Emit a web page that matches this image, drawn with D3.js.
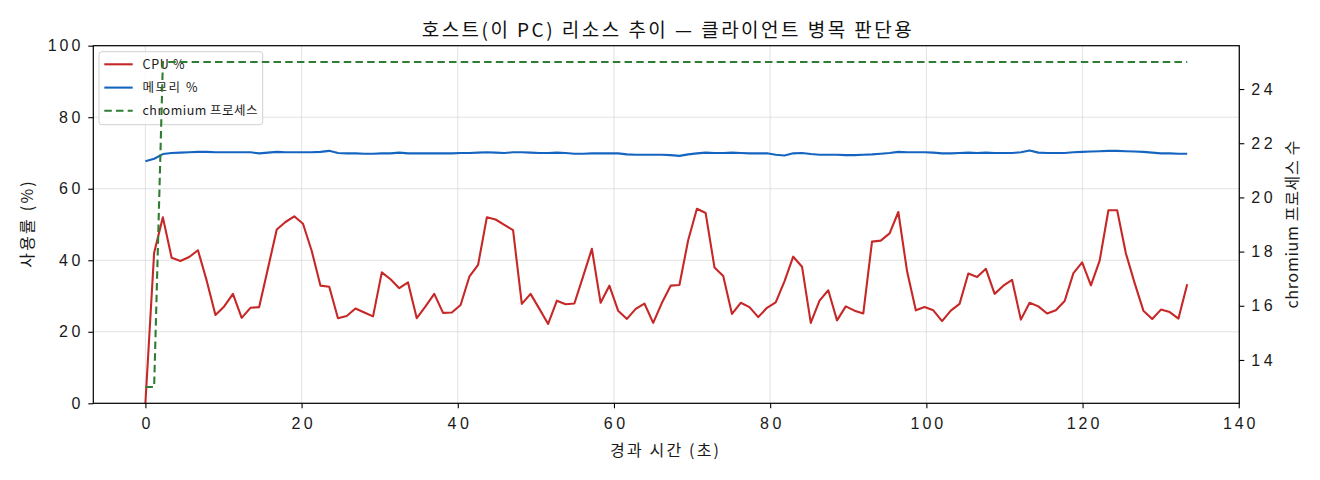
<!DOCTYPE html>
<html>
<head>
<meta charset="utf-8">
<script src="https://cdn.jsdelivr.net/npm/d3@7/dist/d3.min.js"></script>
<style>
  html, body { margin: 0; padding: 0; background: #fff; }
  svg { display: block; font-family: "Noto Sans CJK KR", "Noto Sans", sans-serif; }
</style>
</head>
<body>
<svg id="chart" width="1320" height="480"></svg>
<script>
// ---- data ----
const times = [0,1.12,2.24,3.36,4.48,5.61,6.73,7.85,8.97,10.09,11.21,12.33,13.45,14.57,15.69,16.82,17.94,19.06,20.18,21.30,
22.42,23.54,24.66,25.78,26.90,28.03,29.15,30.27,31.39,32.51,33.63,34.75,35.87,36.99,38.11,39.24,40.36,41.48,42.60,43.72,
44.84,45.96,47.08,48.20,49.32,50.45,51.57,52.69,53.81,54.93,56.05,57.17,58.29,59.41,60.53,61.66,62.78,63.90,65.02,66.14,
67.26,68.38,69.50,70.62,71.74,72.87,73.99,75.11,76.23,77.35,78.47,79.59,80.71,81.83,82.95,84.08,85.20,86.32,87.44,88.56,
89.68,90.80,91.92,93.04,94.16,95.29,96.41,97.53,98.65,99.77,100.89,102.01,103.13,104.25,105.37,106.50,107.62,108.74,109.86,110.98,
112.10,113.22,114.34,115.46,116.58,117.71,118.83,119.95,121.07,122.19,123.31,124.43,125.55,126.67,127.79,128.92,130.04,131.16,132.28,133.40];

const cpuPct = [0,42.1,52.0,40.7,39.8,40.9,42.8,34.3,24.7,27.1,30.6,23.9,26.7,26.9,37.7,48.6,50.7,52.3,50.2,42.6,
32.9,32.6,23.8,24.4,26.5,25.4,24.3,36.6,34.7,32.2,33.8,23.8,27.1,30.6,25.3,25.4,27.5,35.4,38.7,52.0,
51.4,49.9,48.4,27.8,30.6,26.4,22.2,28.7,27.7,27.9,35.5,43.2,28.1,32.9,25.9,23.6,26.4,27.9,22.5,28.1,
32.9,33.1,45.6,54.4,53.2,38.0,35.6,25.0,28.1,26.9,24.1,26.7,28.2,34.1,41.0,38.2,22.5,28.7,31.6,23.2,
27.1,25.9,25.1,45.2,45.5,47.5,53.5,36.9,26.0,26.9,26.0,23.0,25.9,27.8,36.3,35.3,37.6,30.6,32.9,34.5,
23.4,28.1,27.1,25.1,26.0,28.6,36.4,39.4,33.0,39.9,54.0,54.0,41.9,33.6,25.9,23.6,26.2,25.5,23.7,33.3];

const memPct = [67.7,68.4,69.7,70.0,70.1,70.2,70.3,70.3,70.2,70.2,70.2,70.2,70.2,69.9,70.1,70.3,70.2,70.2,70.2,70.2,
70.3,70.6,70.0,69.9,69.9,69.8,69.8,69.9,69.9,70.1,69.9,69.9,69.9,69.9,69.9,69.9,70.0,70.0,70.1,70.2,
70.1,70.0,70.2,70.2,70.1,70.0,70.0,70.1,70.0,69.8,69.8,69.9,69.9,69.9,69.9,69.6,69.5,69.5,69.5,69.5,
69.4,69.2,69.6,69.9,70.1,70.0,70.0,70.1,70.0,69.9,69.9,69.9,69.5,69.3,69.9,70.0,69.7,69.5,69.5,69.5,
69.4,69.4,69.5,69.6,69.8,70.0,70.3,70.2,70.2,70.2,70.1,69.9,69.9,70.0,70.1,70.0,70.1,70.0,70.0,70.0,
70.2,70.7,70.1,70.0,70.0,70.0,70.2,70.3,70.4,70.5,70.6,70.6,70.5,70.4,70.3,70.1,69.9,69.9,69.8,69.8];

const chromiumProcs = [13,13,25,25,25,25,25,25,25,25,25,25,25,25,25,25,25,25,25,25,
25,25,25,25,25,25,25,25,25,25,25,25,25,25,25,25,25,25,25,25,
25,25,25,25,25,25,25,25,25,25,25,25,25,25,25,25,25,25,25,25,
25,25,25,25,25,25,25,25,25,25,25,25,25,25,25,25,25,25,25,25,
25,25,25,25,25,25,25,25,25,25,25,25,25,25,25,25,25,25,25,25,
25,25,25,25,25,25,25,25,25,25,25,25,25,25,25,25,25,25,25,25];

const xTicks = [0, 20, 40, 60, 80, 100, 120, 140];
const yLeftTicks = [0, 20, 40, 60, 80, 100];
const yRightTicks = [14, 16, 18, 20, 22, 24];

const titleText = "호스트(이 PC) 리소스 추이 — 클라이언트 병목 판단용";
const xLabel = "경과 시간 (초)";
const yLeftLabel = "사용률 (%)";
const yRightLabel = "chromium 프로세스 수";
const seriesNames = ["CPU %", "메모리 %", "chromium 프로세스"];

// ---- layout ----
const W = 1320, H = 480;
const L = 93.3, R = 1239.3, T = 45.7, B = 403.3;
const colors = { cpu: "#c62828", mem: "#1565c0", chr: "#2e7d32" };
const ink = "#1a1a1a";

const svg = d3.select("#chart");

const xMin = d3.min(times), xMax = d3.max(times), xPad = (xMax - xMin) * 0.05;
const x = d3.scaleLinear().domain([xMin - xPad, xMax + xPad]).range([L, R]);
const yL = d3.scaleLinear().domain([0, 100]).range([B, T]);
const cMin = d3.min(chromiumProcs), cMax = d3.max(chromiumProcs), cPad = (cMax - cMin) * 0.05;
const yR = d3.scaleLinear().domain([cMin - cPad, cMax + cPad]).range([B, T]);

// grid
const grid = svg.append("g").attr("stroke", "#b0b0b0").attr("stroke-opacity", 0.35).attr("stroke-width", 1);
xTicks.forEach(t => grid.append("line").attr("x1", x(t)).attr("x2", x(t)).attr("y1", T).attr("y2", B));
yLeftTicks.forEach(t => grid.append("line").attr("x1", L).attr("x2", R).attr("y1", yL(t)).attr("y2", yL(t)));

// clip
svg.append("clipPath").attr("id", "clip").append("rect").attr("x", L).attr("y", T).attr("width", R - L).attr("height", B - T);

const idx = d3.range(times.length);
const lineCpu = d3.line().x(i => x(times[i])).y(i => yL(cpuPct[i]));
const lineMem = d3.line().x(i => x(times[i])).y(i => yL(memPct[i]));
const lineChr = d3.line().x(i => x(times[i])).y(i => yR(chromiumProcs[i]));

const plot = svg.append("g").attr("clip-path", "url(#clip)");
plot.append("path").attr("d", lineCpu(idx)).attr("fill", "none").attr("stroke", colors.cpu)
  .attr("stroke-width", 2.1).attr("stroke-linejoin", "round");
plot.append("path").attr("d", lineMem(idx)).attr("fill", "none").attr("stroke", colors.mem)
  .attr("stroke-width", 2.1).attr("stroke-linejoin", "round");

// legend (belongs to left axes, drawn under the right-axis line)
const lg = svg.append("g");
lg.append("rect").attr("x", 99).attr("y", 51.7).attr("width", 163.7).attr("height", 73)
  .attr("rx", 3).attr("fill", "#fff").attr("fill-opacity", 0.8).attr("stroke", "#d0d0d0").attr("stroke-width", 1);
const legendRows = [
  { name: seriesNames[0], color: colors.cpu, dash: null, y: 64.3, w: 42 },
  { name: seriesNames[1], color: colors.mem, dash: null, y: 87.6, w: 55 },
  { name: seriesNames[2], color: colors.chr, dash: "7.5,4.2", y: 110.8, w: 115 }
];
legendRows.forEach(r => {
  lg.append("line").attr("x1", 104.3).attr("x2", 132.7).attr("y1", r.y).attr("y2", r.y)
    .attr("stroke", r.color).attr("stroke-width", 2.1).attr("stroke-dasharray", r.dash);
  lg.append("text").attr("x", 142.5).attr("y", r.y).attr("dy", "0.36em")
    .attr("font-size", 12.5).attr("fill", ink)
    .attr("textLength", r.w).attr("lengthAdjust", "spacing").text(r.name);
});

// right-axis line on top
svg.append("g").attr("clip-path", "url(#clip)")
  .append("path").attr("d", lineChr(idx)).attr("fill", "none").attr("stroke", colors.chr)
  .attr("stroke-width", 2.1).attr("stroke-dasharray", "7.5,4.2");

// axes
const fs = 16;
const tickW = s => s.length < 2 ? null : s.length * 11.1 - 0.8;
function styleAxis(g) {
  g.select(".domain").remove();
  g.selectAll(".tick line").attr("stroke", "#000").attr("stroke-width", 1.1);
  g.selectAll(".tick text").attr("font-size", fs).attr("fill", ink)
    .each(function () {
      const s = d3.select(this).text();
      const w = tickW(s);
      if (w) d3.select(this).attr("textLength", w).attr("lengthAdjust", "spacing");
    });
}
const ax = svg.append("g").attr("transform", `translate(0,${B})`)
  .call(d3.axisBottom(x).tickValues(xTicks).tickSize(5).tickPadding(0).tickFormat(d3.format("d")));
ax.selectAll(".tick text").attr("dy", null).attr("y", 26);
const ayl = svg.append("g").attr("transform", `translate(${L},0)`)
  .call(d3.axisLeft(yL).tickValues(yLeftTicks).tickSize(5).tickPadding(8).tickFormat(d3.format("d")));
const ayr = svg.append("g").attr("transform", `translate(${R},0)`)
  .call(d3.axisRight(yR).tickValues(yRightTicks).tickSize(5).tickPadding(7).tickFormat(d3.format("d")));
[ax, ayl, ayr].forEach(styleAxis);

// spines
svg.append("rect").attr("x", L).attr("y", T).attr("width", R - L).attr("height", B - T)
  .attr("fill", "none").attr("stroke", "#000").attr("stroke-width", 1.2);

// texts
svg.append("text").attr("x", 666.7).attr("y", 36.5).attr("text-anchor", "middle")
  .attr("font-size", 19).attr("fill", "#111")
  .attr("textLength", 490).attr("lengthAdjust", "spacing").text(titleText);
svg.append("text").attr("x", 664.5).attr("y", 456).attr("text-anchor", "middle")
  .attr("font-size", fs).attr("fill", ink)
  .attr("textLength", 109).attr("lengthAdjust", "spacing").text(xLabel);
svg.append("text").attr("transform", `translate(32.5,${(T + B) / 2}) rotate(-90)`).attr("text-anchor", "middle")
  .attr("font-size", fs).attr("fill", ink)
  .attr("textLength", 86.6).attr("lengthAdjust", "spacing").text(yLeftLabel);
svg.append("text").attr("transform", `translate(1297.5,${(T + B) / 2}) rotate(-90)`).attr("text-anchor", "middle")
  .attr("font-size", fs).attr("fill", ink)
  .attr("textLength", 168).attr("lengthAdjust", "spacing").text(yRightLabel);
</script>
</body>
</html>
